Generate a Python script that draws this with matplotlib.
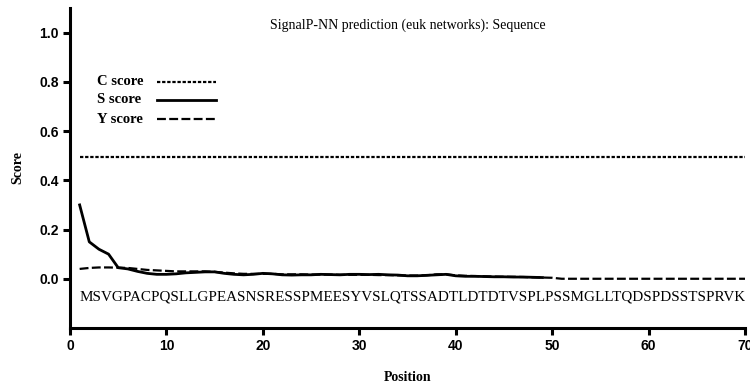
import matplotlib
matplotlib.use("Agg")
import matplotlib.pyplot as plt
from matplotlib import font_manager

# Datos
sequence = "MSVGPACPQSLLGPEASNSRESSPMEESYVSLQTSSADTLDTDTVSPLPSSMGLLTQDSPDSSTSPRVK"

pos_s = list(range(1, 50))
s_score = [0.30, 0.15, 0.12, 0.10, 0.045, 0.040, 0.030, 0.022, 0.018, 0.018,
           0.020, 0.024, 0.026, 0.028, 0.028, 0.022, 0.018, 0.016, 0.018, 0.022,
           0.020, 0.016, 0.015, 0.016, 0.016, 0.018, 0.017, 0.016, 0.018, 0.018,
           0.017, 0.018, 0.016, 0.015, 0.012, 0.012, 0.014, 0.016, 0.018, 0.012,
           0.010, 0.010, 0.009, 0.008, 0.008, 0.007, 0.007, 0.006, 0.005]

pos_y = list(range(1, 71))
y_score = [0.040, 0.044, 0.046, 0.046, 0.045, 0.044, 0.040, 0.036, 0.034, 0.032,
           0.030, 0.030, 0.030, 0.030, 0.028, 0.025, 0.022, 0.020, 0.020, 0.020,
           0.020, 0.018, 0.018, 0.018, 0.017, 0.017, 0.017, 0.016, 0.016, 0.016,
           0.016, 0.015, 0.015, 0.014, 0.013, 0.013, 0.014, 0.018, 0.018, 0.014,
           0.012, 0.011, 0.010, 0.009, 0.008, 0.008, 0.007, 0.006, 0.005, 0.004,
           0.0, 0.0, 0.0, 0.0, 0.0, 0.0, 0.0, 0.0, 0.0, 0.0,
           0.0, 0.0, 0.0, 0.0, 0.0, 0.0, 0.0, 0.0, 0.0, 0.0]

pos_c = [1, 70]
c_score = [0.495, 0.495]

yticks = [0.0, 0.2, 0.4, 0.6, 0.8, 1.0]
xticks = [0, 10, 20, 30, 40, 50, 60, 70]

serif = "Liberation Serif"
names = {f.name for f in font_manager.fontManager.ttflist}
narrow = "Liberation Sans Narrow" if "Liberation Sans Narrow" in names else "Liberation Sans"

fig = plt.figure(figsize=(7.5, 3.85), dpi=100)
ax = fig.add_axes([70/750, 1-328/385, 675/750, 320/385])

c_style = (0, (1.5, 0.8))
y_style = (0, (4, 1.5))

ax.plot(pos_c, c_score, color="black", lw=1.6, ls=c_style)
ax.plot(pos_y, y_score, color="black", lw=1.6, ls=y_style)
ax.plot(pos_s, s_score, color="black", lw=2.0)

ax.set_xlim(0, 70)
ax.set_ylim(-0.2, 1.1)

# secuencia como una sola cadena, ajustada de la posicion 1 a la 70
seq = ax.text(1, -0.075, sequence, ha="left", va="center",
              fontsize=10, family=serif)
fig.canvas.draw()
w = seq.get_window_extent().width
target = ax.transData.transform((70, 0))[0] - ax.transData.transform((1, 0))[0]
seq.set_fontsize(10 * target / w)

ax.set_xticks(xticks)
ax.set_yticks(yticks)
ax.set_yticklabels(["%.1f" % v for v in yticks])

for sp in ["top", "right"]:
    ax.spines[sp].set_visible(False)
for sp in ["left", "bottom"]:
    ax.spines[sp].set_linewidth(2.2)
ax.tick_params(width=2.2, length=5, direction="out", pad=3)
for lab in ax.get_xticklabels() + ax.get_yticklabels():
    lab.set_fontfamily(narrow)
    lab.set_fontweight("bold")
    lab.set_fontsize(10)

ax.set_xlabel("Position", family=serif, fontweight="bold", fontsize=10, va="center")
ax.xaxis.set_label_coords(0.5, -0.156)
ax.set_ylabel("Score", family=serif, fontweight="bold", fontsize=10, va="center")
ax.yaxis.set_label_coords(-0.077, 0.5)

ax.text(0.5, 0.947, "SignalP-NN prediction (euk networks): Sequence",
        transform=ax.transAxes, ha="center", va="center", family=serif, fontsize=10)

# leyenda dibujada a mano
rows = [("C score", c_style, 1.6, 0.769),
        ("S score", "-", 2.0, 0.7125),
        ("Y score", y_style, 1.6, 0.653)]
for label, ls, lw, yy in rows:
    ax.text(0.04, yy, label, transform=ax.transAxes, ha="left", va="center",
            family=serif, fontweight="bold", fontsize=10.5)
    ax.plot([0.129, 0.216], [yy, yy], transform=ax.transAxes,
            color="black", ls=ls, lw=lw)

fig.savefig("out.png", dpi=100)
